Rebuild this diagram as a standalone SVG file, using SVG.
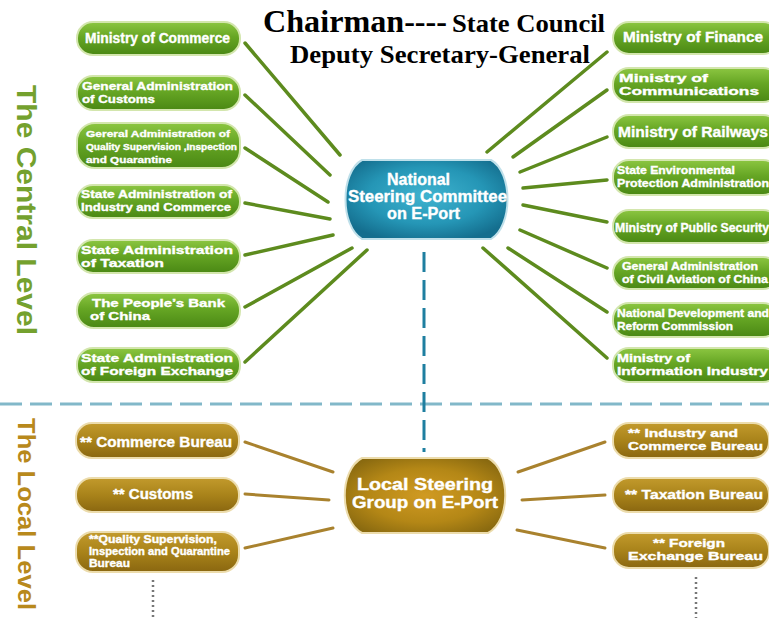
<svg xmlns="http://www.w3.org/2000/svg" width="769" height="618" viewBox="0 0 769 618">
<defs>
<linearGradient id="gG" x1="0" y1="0" x2="0" y2="1">
<stop offset="0" stop-color="#8cc641"/>
<stop offset="0.45" stop-color="#66a624"/>
<stop offset="1" stop-color="#4a8814"/>
</linearGradient>
<linearGradient id="gB" x1="0" y1="0" x2="0" y2="1">
<stop offset="0" stop-color="#c29a2c"/>
<stop offset="0.5" stop-color="#a9831a"/>
<stop offset="1" stop-color="#8a6710"/>
</linearGradient>
<radialGradient id="gBC" cx="0.5" cy="0.5" r="0.6">
<stop offset="0" stop-color="#d09a22"/>
<stop offset="0.6" stop-color="#b48716"/>
<stop offset="1" stop-color="#8a6a10"/>
</radialGradient>
<radialGradient id="gBlue" cx="0.5" cy="0.45" r="0.6">
<stop offset="0" stop-color="#3fb3cf"/>
<stop offset="0.6" stop-color="#2596b6"/>
<stop offset="1" stop-color="#146e8e"/>
</radialGradient>
</defs>
<style>
.g{fill:url(#gG);stroke:#d3e6ad;stroke-width:2}
.b{fill:url(#gB);stroke:#ecdcac;stroke-width:2}
.t{fill:#fff;font-family:"Liberation Sans",Arial,sans-serif;font-weight:bold;stroke:#fff;stroke-width:0.35}
.cg{stroke:#5d8b1e;stroke-width:3.5;stroke-linecap:round;fill:none}
.cb{stroke:#a9822e;stroke-width:3;stroke-linecap:round;fill:none}
.title{font-family:"Liberation Serif","Times New Roman",serif;font-weight:bold;fill:#000}
.lvl{font-family:"Liberation Sans",Arial,sans-serif;font-weight:bold}
</style>
<rect width="769" height="618" fill="#fff"/>

<g id="title">
<text class="title" x="263" y="32" font-size="31" textLength="184" lengthAdjust="spacingAndGlyphs">Chairman----</text>
<text class="title" x="452" y="32" font-size="26" textLength="153" lengthAdjust="spacingAndGlyphs">State Council</text>
<text class="title" x="290" y="63" font-size="26" textLength="300" lengthAdjust="spacingAndGlyphs">Deputy Secretary-General</text>
</g>

<g id="level-labels">
<text class="lvl" transform="translate(17,85) rotate(90)" font-size="28" fill="#74a12e" textLength="250" lengthAdjust="spacingAndGlyphs">The Central Level</text>
<text class="lvl" transform="translate(18,418) rotate(90)" font-size="24" fill="#b8891c" textLength="192" lengthAdjust="spacingAndGlyphs">The Local Level</text>
</g>

<g id="connectors">
<line x1="0" y1="404" x2="769" y2="404" stroke="#82b8c9" stroke-width="3" stroke-dasharray="22 8"/>
<line x1="424" y1="252" x2="424" y2="452" stroke="#1e7fa0" stroke-width="3" stroke-dasharray="20 8"/>
<line x1="153" y1="580" x2="153" y2="618" stroke="#777" stroke-width="2.5" stroke-dasharray="2 3"/>
<line x1="696" y1="577" x2="696" y2="618" stroke="#777" stroke-width="2.5" stroke-dasharray="2 3"/>
<line class="cg" x1="245" y1="43" x2="340" y2="155"/>
<line class="cg" x1="245" y1="95" x2="330" y2="175"/>
<line class="cg" x1="245" y1="148" x2="328" y2="202"/>
<line class="cg" x1="245" y1="203" x2="330" y2="219"/>
<line class="cg" x1="245" y1="255" x2="333" y2="235"/>
<line class="cg" x1="245" y1="307" x2="352" y2="248"/>
<line class="cg" x1="245" y1="362" x2="367" y2="250"/>
<line class="cg" x1="487" y1="152" x2="607" y2="52"/>
<line class="cg" x1="513" y1="157" x2="607" y2="90"/>
<line class="cg" x1="520" y1="172" x2="607" y2="137"/>
<line class="cg" x1="523" y1="188" x2="607" y2="180"/>
<line class="cg" x1="523" y1="205" x2="607" y2="222"/>
<line class="cg" x1="520" y1="230" x2="607" y2="268"/>
<line class="cg" x1="508" y1="248" x2="607" y2="312"/>
<line class="cg" x1="483" y1="248" x2="607" y2="358"/>
<line class="cb" x1="245" y1="442" x2="333" y2="472"/>
<line class="cb" x1="245" y1="494" x2="329" y2="500"/>
<line class="cb" x1="245" y1="548" x2="333" y2="528"/>
<line class="cb" x1="518" y1="472" x2="605" y2="442"/>
<line class="cb" x1="522" y1="500" x2="605" y2="495"/>
<line class="cb" x1="517" y1="530" x2="605" y2="548"/>
</g>

<g id="national">
<path d="M362,160 L491,160 C513,172 513,226 491,239 L362,239 C340,226 340,172 362,160 Z" fill="url(#gBlue)" stroke="#bfe0ea" stroke-width="2"/>
<text class="t" x="387" y="185" font-size="16" textLength="63" lengthAdjust="spacingAndGlyphs">National</text>
<text class="t" x="348" y="202" font-size="16" textLength="159" lengthAdjust="spacingAndGlyphs">Steering Committee</text>
<text class="t" x="387" y="219" font-size="16" textLength="73" lengthAdjust="spacingAndGlyphs">on E-Port</text>
</g>

<g id="local">
<path d="M362,458 L488,458 C511,470 511,521 488,533 L362,533 C339,521 339,470 362,458 Z" fill="url(#gBC)" stroke="#ecdcac" stroke-width="2"/>
<text class="t" x="357" y="490" font-size="16.5" textLength="136" lengthAdjust="spacingAndGlyphs">Local Steering</text>
<text class="t" x="352" y="508" font-size="16.5" textLength="146" lengthAdjust="spacingAndGlyphs">Group on E-Port</text>
</g>

<g id="n-commerce"><rect class="g" x="77" y="22" width="163" height="33" rx="16"/>
<text class="t" x="85" y="43" font-size="14" textLength="145" lengthAdjust="spacingAndGlyphs">Ministry of Commerce</text></g>
<g id="n-customs"><rect class="g" x="77" y="76" width="163" height="34" rx="16"/>
<text class="t" x="82" y="90" font-size="11" textLength="151" lengthAdjust="spacingAndGlyphs">General Administration</text>
<text class="t" x="82" y="103" font-size="11" textLength="73" lengthAdjust="spacingAndGlyphs">of Customs</text></g>
<g id="n-quality"><rect class="g" x="77" y="123" width="163" height="45" rx="18"/>
<text class="t" x="86" y="137" font-size="9.5" textLength="144" lengthAdjust="spacingAndGlyphs">Gereral Administration of</text>
<text class="t" x="86" y="150" font-size="9.5" textLength="151" lengthAdjust="spacingAndGlyphs">Quality Supervision ,Inspection</text>
<text class="t" x="86" y="163" font-size="9.5" textLength="86" lengthAdjust="spacingAndGlyphs">and Quarantine</text></g>
<g id="n-saic"><rect class="g" x="77" y="185" width="163" height="33" rx="16"/>
<text class="t" x="81" y="198" font-size="11" textLength="151" lengthAdjust="spacingAndGlyphs">State Administration of</text>
<text class="t" x="81" y="211" font-size="11" textLength="150" lengthAdjust="spacingAndGlyphs">Industry and Commerce</text></g>
<g id="n-sat"><rect class="g" x="77" y="240" width="163" height="33" rx="16"/>
<text class="t" x="81" y="254" font-size="11" textLength="152" lengthAdjust="spacingAndGlyphs">State Administration</text>
<text class="t" x="81" y="267" font-size="11" textLength="83" lengthAdjust="spacingAndGlyphs">of Taxation</text></g>
<g id="n-pboc"><rect class="g" x="77" y="293" width="163" height="35" rx="17"/>
<text class="t" x="92" y="307" font-size="11" textLength="133" lengthAdjust="spacingAndGlyphs">The People’s Bank</text>
<text class="t" x="90" y="320" font-size="11" textLength="60" lengthAdjust="spacingAndGlyphs">of China</text></g>
<g id="n-safe"><rect class="g" x="77" y="348" width="163" height="34" rx="16"/>
<text class="t" x="81" y="362" font-size="11" textLength="152" lengthAdjust="spacingAndGlyphs">State Administration</text>
<text class="t" x="81" y="375" font-size="11" textLength="152" lengthAdjust="spacingAndGlyphs">of Foreign Exchange</text></g>

<g id="n-finance"><rect class="g" x="613" y="22" width="166" height="32" rx="16"/>
<text class="t" x="623" y="42" font-size="14" textLength="140" lengthAdjust="spacingAndGlyphs">Ministry of Finance</text></g>
<g id="n-comm"><rect class="g" x="613" y="68" width="166" height="34" rx="16"/>
<text class="t" x="619" y="82" font-size="11" textLength="89" lengthAdjust="spacingAndGlyphs">Ministry of</text>
<text class="t" x="619" y="95" font-size="11" textLength="140" lengthAdjust="spacingAndGlyphs">Communications</text></g>
<g id="n-rail"><rect class="g" x="613" y="115" width="166" height="33" rx="16"/>
<text class="t" x="618" y="137" font-size="14" textLength="150" lengthAdjust="spacingAndGlyphs">Ministry of Railways</text></g>
<g id="n-sepa"><rect class="g" x="613" y="160" width="166" height="35" rx="16"/>
<text class="t" x="617" y="174" font-size="10.5" textLength="118" lengthAdjust="spacingAndGlyphs">State Environmental</text>
<text class="t" x="617" y="187" font-size="10.5" textLength="152" lengthAdjust="spacingAndGlyphs">Protection Administration</text></g>
<g id="n-mps"><rect class="g" x="613" y="210" width="166" height="33" rx="16"/>
<text class="t" x="615" y="232" font-size="12" textLength="154" lengthAdjust="spacingAndGlyphs">Ministry of Public Security</text></g>
<g id="n-caac"><rect class="g" x="613" y="257" width="166" height="32" rx="16"/>
<text class="t" x="622" y="270" font-size="10.5" textLength="136" lengthAdjust="spacingAndGlyphs">General Administration</text>
<text class="t" x="622" y="283" font-size="10.5" textLength="146" lengthAdjust="spacingAndGlyphs">of Civil Aviation of China</text></g>
<g id="n-ndrc"><rect class="g" x="613" y="303" width="166" height="34" rx="16"/>
<text class="t" x="617" y="317" font-size="10.5" textLength="152" lengthAdjust="spacingAndGlyphs">National Development and</text>
<text class="t" x="617" y="330" font-size="10.5" textLength="116" lengthAdjust="spacingAndGlyphs">Reform Commission</text></g>
<g id="n-mii"><rect class="g" x="613" y="348" width="166" height="34" rx="16"/>
<text class="t" x="617" y="362" font-size="11" textLength="73" lengthAdjust="spacingAndGlyphs">Ministry of</text>
<text class="t" x="617" y="375" font-size="11" textLength="151" lengthAdjust="spacingAndGlyphs">Information Industry</text></g>

<g id="l-commerce"><rect class="b" x="76" y="423" width="163" height="35" rx="16"/>
<text class="t" x="80" y="447" font-size="14" textLength="152" lengthAdjust="spacingAndGlyphs">** Commerce Bureau</text></g>
<g id="l-customs"><rect class="b" x="76" y="478" width="163" height="34" rx="16"/>
<text class="t" x="113" y="499" font-size="14" textLength="80" lengthAdjust="spacingAndGlyphs">** Customs</text></g>
<g id="l-quality"><rect class="b" x="76" y="532" width="163" height="40" rx="17"/>
<text class="t" x="89" y="543" font-size="10" textLength="128" lengthAdjust="spacingAndGlyphs">**Quality Supervision,</text>
<text class="t" x="89" y="555" font-size="10" textLength="141" lengthAdjust="spacingAndGlyphs">Inspection and Quarantine</text>
<text class="t" x="89" y="567" font-size="10" textLength="41" lengthAdjust="spacingAndGlyphs">Bureau</text></g>

<g id="l-industry"><rect class="b" x="613" y="423" width="156" height="35" rx="16"/>
<text class="t" x="628" y="437" font-size="11" textLength="110" lengthAdjust="spacingAndGlyphs">** Industry and</text>
<text class="t" x="628" y="450" font-size="11" textLength="135" lengthAdjust="spacingAndGlyphs">Commerce Bureau</text></g>
<g id="l-taxation"><rect class="b" x="613" y="478" width="156" height="34" rx="16"/>
<text class="t" x="625" y="499" font-size="12.5" textLength="138" lengthAdjust="spacingAndGlyphs">** Taxation Bureau</text></g>
<g id="l-forex"><rect class="b" x="613" y="533" width="156" height="35" rx="16"/>
<text class="t" x="653" y="547" font-size="11" textLength="72" lengthAdjust="spacingAndGlyphs">** Foreign</text>
<text class="t" x="628" y="560" font-size="11" textLength="135" lengthAdjust="spacingAndGlyphs">Exchange Bureau</text></g>
</svg>
